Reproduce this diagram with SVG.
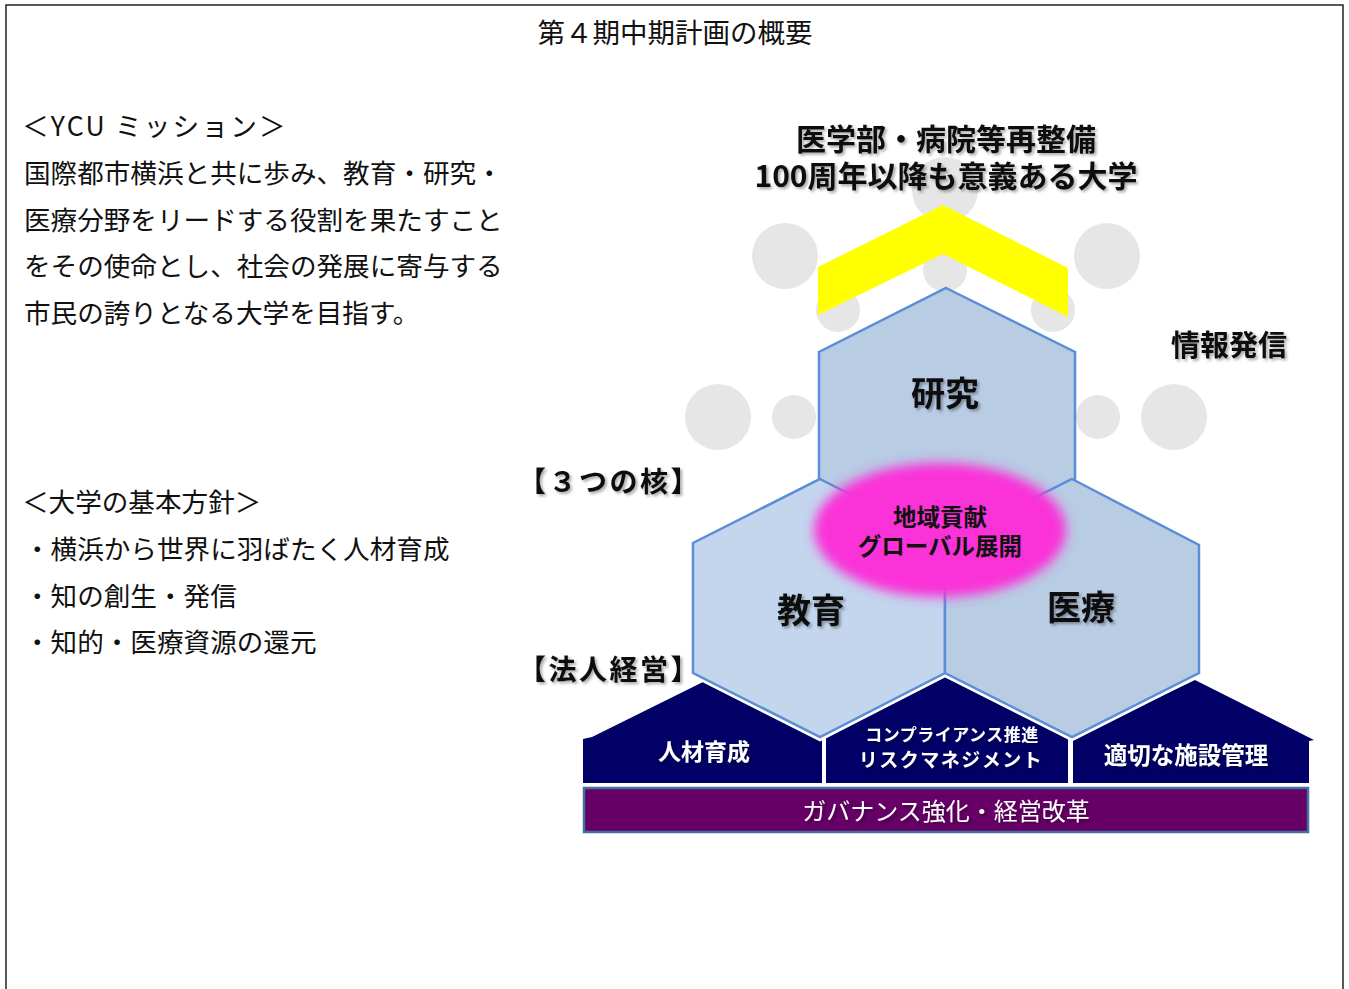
<svg xmlns="http://www.w3.org/2000/svg" width="1349" height="989" viewBox="0 0 1349 989">
<defs>
<filter id="sh" x="-10%" y="-20%" width="130%" height="160%">
<feDropShadow dx="2" dy="2" stdDeviation="1.5" flood-color="#000" flood-opacity="0.35"/>
</filter>
<filter id="blur" x="-20%" y="-30%" width="140%" height="160%">
<feGaussianBlur stdDeviation="6"/>
</filter>
<style>
text{font-family:"Noto Sans CJK JP","Noto Sans",sans-serif;}
.body{font-size:26.6px;fill:#111;}
.title{font-size:27.5px;fill:#111;}
.b{font-weight:700;fill:#111;}
.w{font-weight:700;fill:#fff;}
.c{text-anchor:middle;}
.circ{fill:#e6e6e6;}
.hex{stroke:#5a8ed6;stroke-width:2.5;stroke-linejoin:miter;}
.navy{fill:#000066;}
</style>
</defs>
<rect x="0" y="0" width="1349" height="989" fill="#fff"/>
<rect x="6" y="5" width="1337" height="1000" fill="none" stroke="#222" stroke-width="1.5"/>

<g id="title"><text class="title c" x="675" y="43">第４期中期計画の概要</text></g>

<g id="mission">
<text class="body" x="22" y="136" letter-spacing="2.2">＜YCU ミッション＞</text>
<text class="body" x="24" y="183">国際都市横浜と共に歩み、教育・研究・</text>
<text class="body" x="24" y="230">医療分野をリードする役割を果たすこと</text>
<text class="body" x="24" y="276">をその使命とし、社会の発展に寄与する</text>
<text class="body" x="24" y="323">市民の誇りとなる大学を目指す。</text>
</g>
<g id="policy">
<text class="body" x="22" y="512">＜大学の基本方針＞</text>
<text class="body" x="24" y="559">・横浜から世界に羽ばたく人材育成</text>
<text class="body" x="24" y="606">・知の創生・発信</text>
<text class="body" x="24" y="652">・知的・医療資源の還元</text>
</g>

<g id="circles">
<circle class="circ" cx="945" cy="190" r="33"/>
<circle class="circ" cx="785" cy="256" r="33"/>
<circle class="circ" cx="1107" cy="256" r="33"/>
<circle class="circ" cx="945" cy="270" r="22"/>
<circle class="circ" cx="838" cy="310" r="22"/>
<circle class="circ" cx="1053" cy="310" r="22"/>
<circle class="circ" cx="718" cy="417" r="33"/>
<circle class="circ" cx="794" cy="417" r="22"/>
<circle class="circ" cx="1098" cy="417" r="22"/>
<circle class="circ" cx="1174" cy="417" r="33"/>
</g>

<g id="chevron"><polygon points="818,267 943,205 1068,268 1068,317 943,254 818,315" fill="#ffff00"/></g>

<g id="goal" filter="url(#sh)">
<text class="b c" x="946" y="150" font-size="30">医学部・病院等再整備<tspan x="946" dy="37">100周年以降も意義ある大学</tspan></text>
</g>
<g id="info"><text class="b c" x="1229" y="356" font-size="29" filter="url(#sh)">情報発信</text></g>
<g id="label-core"><text class="b" x="518" y="492" font-size="28" letter-spacing="2.5" filter="url(#sh)">【３つの核】</text></g>
<g id="label-corp"><text class="b" x="518" y="680" font-size="28" letter-spacing="2.5" filter="url(#sh)">【法人経営】</text></g>

<g id="houses">
<polygon class="navy" points="583,739 592,737 705,681 822,738 822,783 583,783"/>
<polygon class="navy" points="826,737 945,677 1068,737 1068,783 826,783"/>
<polygon class="navy" points="1073,738 1195,680 1314,740 1309,741 1309,783 1073,783"/>
</g>
<polyline points="693,673 820,737 945,673 1072,737 1199,673" fill="none" stroke="#fff" stroke-width="8" stroke-linejoin="miter"/>

<g id="hex-research"><polygon class="hex" fill="#b8cce4" points="946,288 1075,352 1075,480 946,544 819,480 819,352"/></g>
<g id="hex-education"><polygon class="hex" fill="#c3d6ee" points="820,479 945,543 945,673 820,737 693,673 693,543"/></g>
<g id="hex-medical"><polygon class="hex" fill="#b8cce4" points="1072,479 1199,545 1199,673 1072,737 945,673 945,543"/></g>

<g id="region">
<ellipse cx="940" cy="530" rx="126" ry="67" fill="#fa32d8" filter="url(#blur)"/>
<text class="b c" x="940" y="526" font-size="23.5">地域貢献<tspan x="940" dy="29">グローバル展開</tspan></text>
</g>

<g filter="url(#sh)">
<text class="b c" x="945" y="406" font-size="34">研究</text>
<text class="b c" x="811" y="623" font-size="34">教育</text>
<text class="b c" x="1081" y="620" font-size="34">医療</text>
</g>

<g id="house-texts" filter="url(#sh)">
<text class="w c" x="704" y="760" font-size="23">人材育成</text>
<text class="w c" x="952" y="741" font-size="17" letter-spacing="0.5">コンプライアンス推進</text>
<text class="w c" x="951" y="767" font-size="19" letter-spacing="1.5">リスクマネジメント</text>
<text class="w c" x="1186" y="764" font-size="23.5">適切な施設管理</text>
</g>

<g id="governance">
<rect x="584" y="788" width="724" height="44" fill="#660066" stroke="#41719c" stroke-width="2.5"/>
<text class="c" x="946" y="820" font-size="24" fill="#fff" filter="url(#sh)">ガバナンス強化・経営改革</text>
</g>
</svg>
